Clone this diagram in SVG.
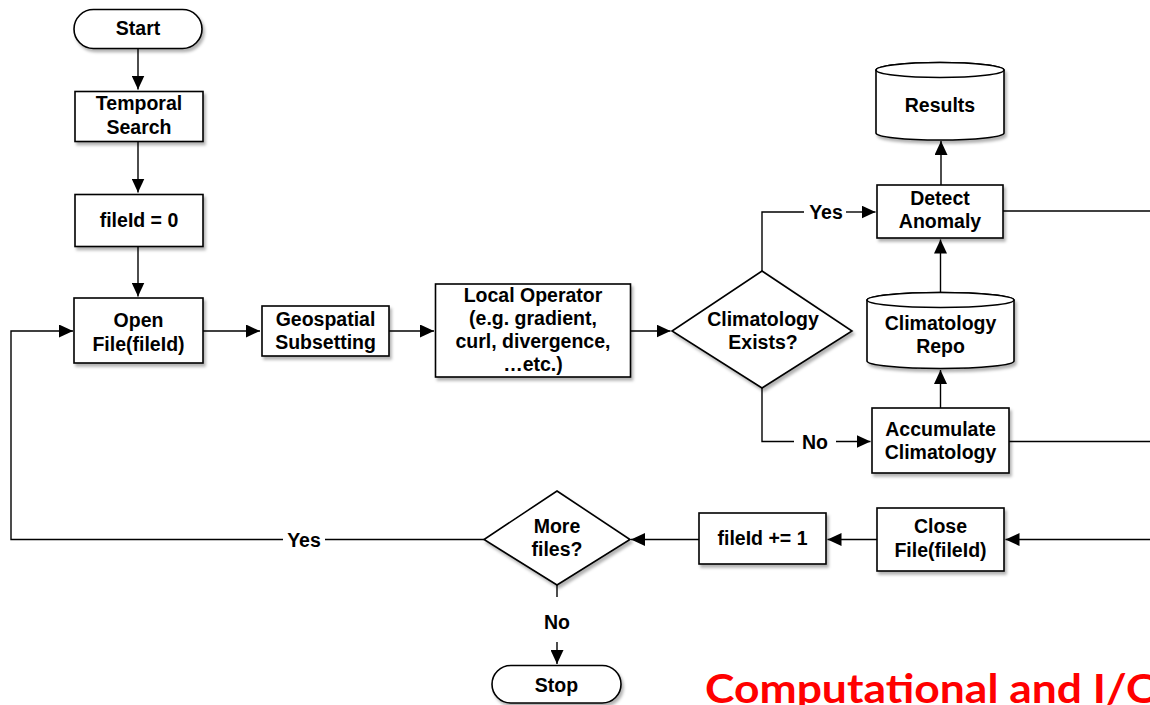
<svg xmlns="http://www.w3.org/2000/svg" width="1150" height="705" viewBox="0 0 1150 705">
<style>
.box{fill:#fff;stroke:#000;stroke-width:1.6;filter:url(#sh)}
.t{font-family:"Liberation Sans",Arial,sans-serif;font-weight:bold;font-size:19.5px;text-anchor:middle;fill:#000}
.c{fill:none;stroke:#000;stroke-width:1.4}
.a{marker-end:url(#ah)}
</style>
<defs>
<filter id="sh" x="-10%" y="-10%" width="125%" height="130%">
<feDropShadow dx="2" dy="3" stdDeviation="1.5" flood-color="#000" flood-opacity="0.3"/>
</filter>
<marker id="ah" markerUnits="userSpaceOnUse" markerWidth="15" markerHeight="13" refX="14" refY="6.5" orient="auto">
<path d="M0,0 L14,6.5 L0,13 z" fill="#000"/>
</marker>
</defs>
<rect width="1150" height="705" fill="#fff"/>

<g id="connectors">
<path class="c a" d="M138,48.5 V89.5"/>
<path class="c a" d="M138,141.5 V192.5"/>
<path class="c a" d="M138,246.5 V296.5"/>
<path class="c a" d="M203,331 H260"/>
<path class="c a" d="M389,331 H434"/>
<path class="c a" d="M631,331 H670.5"/>
<path class="c" d="M762,271 V212 H804"/>
<path class="c a" d="M846,212 H875.5"/>
<path class="c" d="M762,388 V441.5 H794"/>
<path class="c a" d="M836,441.5 H870.5"/>
<path class="c a" d="M941,185 V141"/>
<path class="c a" d="M940.5,292.5 V239.5"/>
<path class="c a" d="M940.5,408 V370"/>
<path class="c" d="M1003,211 H1150"/>
<path class="c" d="M1008,441.5 H1150"/>
<path class="c a" d="M1150,539.5 H1005.5"/>
<path class="c a" d="M877,539.5 H827.5"/>
<path class="c a" d="M699,539.5 H631"/>
<path class="c" d="M484,539.5 H325"/>
<path class="c a" d="M283,539.5 H11 V331 H73"/>
<path class="c" d="M557,585 V597"/>
<path class="c a" d="M557,642 V664"/>
<text class="t" x="826" y="219">Yes</text>
<text class="t" x="815" y="448.5">No</text>
<text class="t" x="304" y="546.5">Yes</text>
<text class="t" x="557" y="628.5">No</text>
</g>

<g id="start">
<rect class="box" x="74" y="9.5" width="128" height="39" rx="19.5"/>
<text class="t" x="138" y="35">Start</text>
</g>
<g id="temporal-search">
<rect class="box" x="75" y="91.5" width="128" height="50"/>
<text class="t" x="139" y="110">Temporal</text>
<text class="t" x="139" y="134">Search</text>
</g>
<g id="fileid-0">
<rect class="box" x="75" y="194.5" width="128" height="52"/>
<text class="t" x="139" y="227">fileId = 0</text>
</g>
<g id="open-file">
<rect class="box" x="74" y="298" width="129" height="65"/>
<text class="t" x="138.5" y="327">Open</text>
<text class="t" x="138.5" y="351">File(fileId)</text>
</g>
<g id="geospatial">
<rect class="box" x="262" y="306" width="127" height="50"/>
<text class="t" x="325.5" y="326">Geospatial</text>
<text class="t" x="325.5" y="349">Subsetting</text>
</g>
<g id="local-operator">
<rect class="box" x="435.5" y="284" width="195" height="93"/>
<text class="t" x="533" y="302">Local Operator</text>
<text class="t" x="533" y="325">(e.g. gradient,</text>
<text class="t" x="533" y="348">curl, divergence,</text>
<text class="t" x="533" y="371">…etc.)</text>
</g>
<g id="climatology-exists">
<polygon class="box" points="762,271 852,331 762,388 672,331"/>
<text class="t" x="763" y="326">Climatology</text>
<text class="t" x="763" y="349">Exists?</text>
</g>
<g id="results">
<path class="box" d="M876,70 V133 A64,7 0 0 0 1004,133 V70 A64,7.5 0 0 0 876,70 z"/>
<ellipse cx="940" cy="70" rx="64" ry="7.5" fill="#fff" stroke="#000" stroke-width="1.6"/>
<text class="t" x="940" y="112">Results</text>
</g>
<g id="detect-anomaly">
<rect class="box" x="877" y="185" width="126" height="53"/>
<text class="t" x="940" y="205">Detect</text>
<text class="t" x="940" y="228">Anomaly</text>
</g>
<g id="climatology-repo">
<path class="box" d="M867,300 V361 A73.5,7.5 0 0 0 1014,361 V300 A73.5,7.5 0 0 0 867,300 z"/>
<ellipse cx="940.5" cy="300" rx="73.5" ry="7.5" fill="#fff" stroke="#000" stroke-width="1.6"/>
<text class="t" x="940.5" y="330">Climatology</text>
<text class="t" x="940.5" y="353">Repo</text>
</g>
<g id="accumulate-climatology">
<rect class="box" x="872" y="408" width="137" height="65"/>
<text class="t" x="940.5" y="436">Accumulate</text>
<text class="t" x="940.5" y="459">Climatology</text>
</g>
<g id="close-file">
<rect class="box" x="877" y="508" width="127" height="63"/>
<text class="t" x="940.5" y="533">Close</text>
<text class="t" x="940.5" y="557">File(fileId)</text>
</g>
<g id="fileid-inc">
<rect class="box" x="699" y="513" width="127" height="51"/>
<text class="t" x="762.5" y="545">fileId += 1</text>
</g>
<g id="more-files">
<polygon class="box" points="557,491 630,539.5 557,585 484,539.5"/>
<text class="t" x="557" y="533">More</text>
<text class="t" x="557" y="556">files?</text>
</g>
<g id="stop">
<rect class="box" x="492" y="665.5" width="129" height="37.5" rx="18.75"/>
<text class="t" x="556.5" y="692">Stop</text>
</g>
<text x="705" y="703" font-family="Lato,'Liberation Sans',sans-serif" font-weight="bold" font-size="41" fill="#ff0000" textLength="457" lengthAdjust="spacingAndGlyphs">Computational and I/O</text>
</svg>
